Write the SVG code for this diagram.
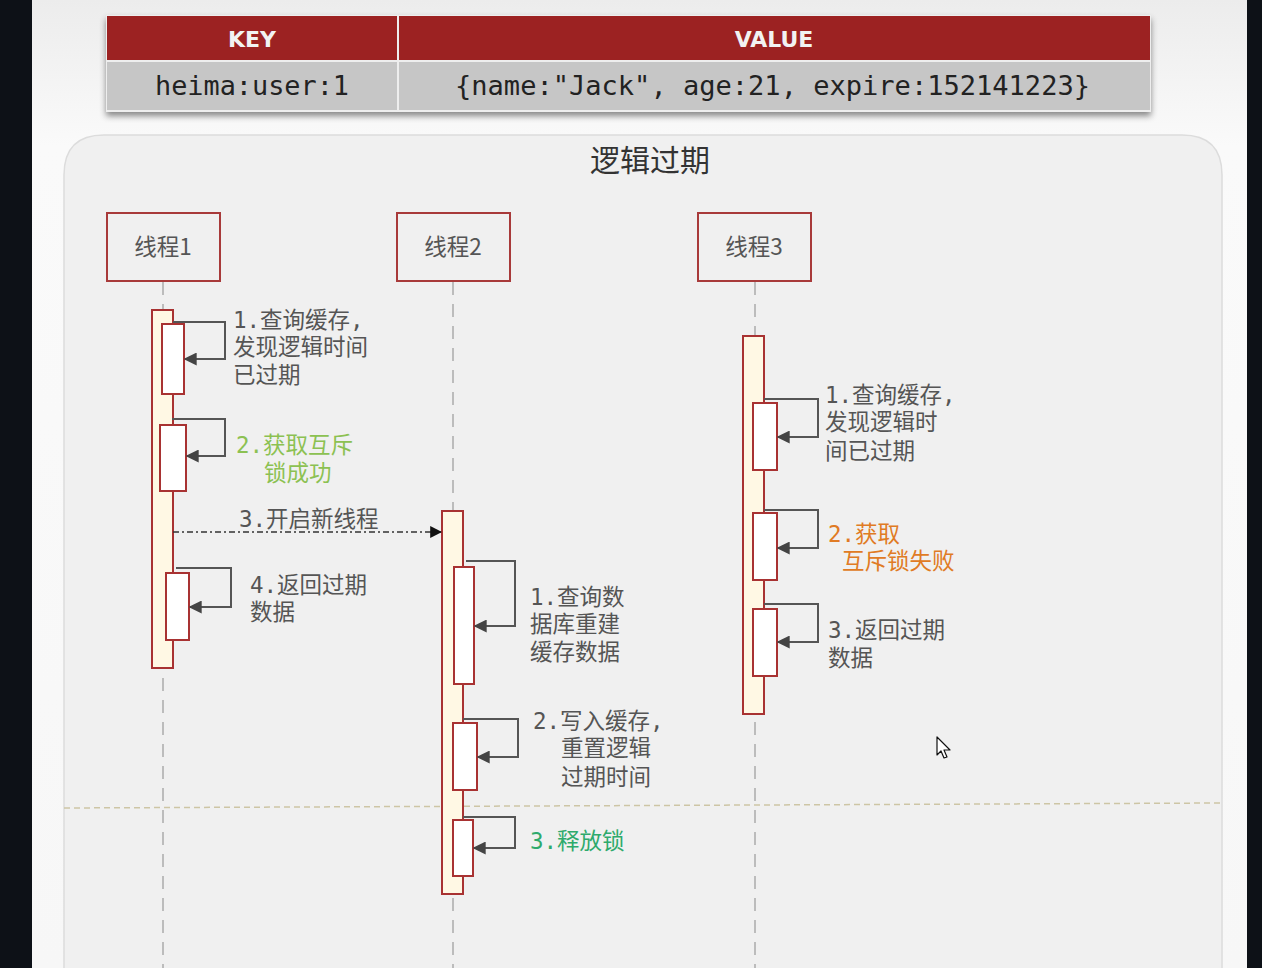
<svg xmlns="http://www.w3.org/2000/svg" width="1262" height="968" viewBox="0 0 1262 968">
<defs>
  <linearGradient id="bg" x1="0" y1="0" x2="0" y2="1">
    <stop offset="0" stop-color="#ececec"/>
    <stop offset="0.15" stop-color="#fafafa"/>
    <stop offset="1" stop-color="#f7f7f7"/>
  </linearGradient>
  <filter id="sh" x="-5%" y="-20%" width="110%" height="150%">
    <feDropShadow dx="0" dy="4" stdDeviation="3" flood-color="#000" flood-opacity="0.45"/>
  </filter>
  <marker id="ah" viewBox="0 0 10 10" refX="9" refY="5" markerWidth="6.5" markerHeight="6.5" orient="auto" markerUnits="strokeWidth">
    <path d="M0,0 L10,5 L0,10 z" fill="#444"/>
  </marker>
  <marker id="ahb" viewBox="0 0 10 10" refX="9" refY="5" markerWidth="8" markerHeight="8" orient="auto" markerUnits="strokeWidth">
    <path d="M0,0 L10,5 L0,10 z" fill="#111"/>
  </marker>
  <style>
    .hdr{fill:#9c2424}
    .hdrt{font-family:"DejaVu Sans","Liberation Sans",sans-serif;font-weight:bold;font-size:22px;fill:#f2f2f2;text-anchor:middle}
    .row{fill:#c6c6c6}
    .mono{font-family:"DejaVu Sans Mono","Liberation Mono",monospace;font-size:26px;fill:#222}
    .thread rect{fill:#f0f0f0;stroke:#a83a3a;stroke-width:2}
    .thread text{font-family:"Noto Sans CJK SC","Noto Sans",sans-serif;font-size:22.5px;fill:#555;text-anchor:middle}
    .life{stroke:#aaa;stroke-width:1.5;stroke-dasharray:13 9;fill:none}
    .act{fill:#fff8e4;stroke:#a83232;stroke-width:2}
    .inn{fill:#ffffff;stroke:#a83232;stroke-width:2}
    .loop{fill:none;stroke:#555;stroke-width:2;marker-end:url(#ah)}
    .lbl{font-family:"DejaVu Sans Mono","Noto Sans CJK SC",monospace;font-size:22.5px;fill:#555}
    .green{fill:#8cc152}
    .teal{fill:#2eaa6c}
    .orange{fill:#e07b24}
  </style>
</defs>

<rect x="0" y="0" width="1262" height="968" fill="url(#bg)"/>
<rect x="0" y="0" width="32" height="968" fill="#0d1117"/>
<rect x="1247" y="0" width="15" height="968" fill="#0d1117"/>

<!-- table -->
<g id="table" filter="url(#sh)">
  <rect x="106" y="15" width="1045" height="97" fill="#eeeeee"/>
  <rect class="hdr" x="107" y="16" width="290" height="44"/>
  <rect class="hdr" x="399" y="16" width="751" height="44"/>
  <rect class="row" x="107" y="62" width="290" height="48"/>
  <rect class="row" x="399" y="62" width="751" height="48"/>
</g>
<text class="hdrt" x="252" y="47">KEY</text>
<text class="hdrt" x="774" y="47">VALUE</text>
<text class="mono" x="155" y="95" textLength="194" lengthAdjust="spacingAndGlyphs">heima:user:1</text>
<text class="mono" x="455" y="95" textLength="635" lengthAdjust="spacingAndGlyphs">{name:"Jack", age:21, expire:152141223}</text>

<!-- panel -->
<g id="panel">
  <path d="M64,985 L64,175 Q64,135 104,135 L1182,135 Q1222,135 1222,175 L1222,985 Z" fill="#f0f0f0" stroke="#dcdcdc" stroke-width="1.5"/>
  <text x="650" y="171" font-family="Noto Sans CJK SC, sans-serif" font-size="30" fill="#333" text-anchor="middle">逻辑过期</text>
</g>

<!-- lifelines and separators -->
<g id="connectors">
  <line class="life" x1="163" y1="282" x2="163" y2="968"/>
  <line class="life" x1="453" y1="282" x2="453" y2="968"/>
  <line class="life" x1="755" y1="282" x2="755" y2="968"/>
  <line x1="64" y1="808" x2="1222" y2="803" stroke="#cdc5a5" stroke-width="1.5" stroke-dasharray="6 4"/>
</g>

<g id="thread1" class="thread">
  <rect x="107" y="213" width="113" height="68"/>
  <text x="163" y="255">线程1</text>
</g>
<g id="thread2" class="thread">
  <rect x="397" y="213" width="113" height="68"/>
  <text x="453" y="255">线程2</text>
</g>
<g id="thread3" class="thread">
  <rect x="698" y="213" width="113" height="68"/>
  <text x="754" y="255">线程3</text>
</g>

<!-- Thread 1 activations -->
<g id="t1-activation">
  <rect class="act" x="152" y="310" width="21" height="358"/>
  <rect class="inn" x="162" y="324" width="22" height="70"/>
  <rect class="inn" x="160" y="425" width="26" height="66"/>
  <rect class="inn" x="166" y="573" width="23" height="67"/>
</g>
<g id="t2-activation">
  <rect class="act" x="442" y="511" width="21" height="383"/>
  <rect class="inn" x="454" y="567" width="20" height="117"/>
  <rect class="inn" x="453" y="723" width="24" height="67"/>
  <rect class="inn" x="453" y="820" width="20" height="56"/>
</g>
<g id="t3-activation">
  <rect class="act" x="743" y="336" width="21" height="378"/>
  <rect class="inn" x="753" y="403" width="24" height="67"/>
  <rect class="inn" x="753" y="513" width="24" height="67"/>
  <rect class="inn" x="753" y="609" width="24" height="67"/>
</g>

<g id="messages">
  <!-- thread 1 loops -->
  <path class="loop" d="M173,322 H225 V359 H185"/>
  <path class="loop" d="M172,419 H225 V456 H187"/>
  <path class="loop" d="M176,568 H231 V607 H190"/>
  <!-- new thread -->
  <line x1="173" y1="532" x2="441" y2="532" stroke="#333" stroke-width="1.5" stroke-dasharray="6 3 2 3" marker-end="url(#ahb)"/>
  <!-- thread 2 loops -->
  <path class="loop" d="M466,561 H515 V626 H475"/>
  <path class="loop" d="M463,719 H518 V757 H478"/>
  <path class="loop" d="M463,817 H515 V848 H474"/>
  <!-- thread 3 loops -->
  <path class="loop" d="M764,399 H818 V437 H778"/>
  <path class="loop" d="M764,510 H818 V548 H778"/>
  <path class="loop" d="M764,604 H818 V642 H778"/>
</g>

<g id="labels">
  <text class="lbl" x="233" y="328">1.查询缓存,</text>
  <text class="lbl" x="233" y="355">发现逻辑时间</text>
  <text class="lbl" x="233" y="383">已过期</text>
  <text class="lbl green" x="236" y="453">2.获取互斥</text>
  <text class="lbl green" x="264" y="481">锁成功</text>
  <text class="lbl" x="239" y="527">3.开启新线程</text>
  <text class="lbl" x="250" y="593">4.返回过期</text>
  <text class="lbl" x="250" y="620">数据</text>

  <text class="lbl" x="530" y="605">1.查询数</text>
  <text class="lbl" x="530" y="632">据库重建</text>
  <text class="lbl" x="530" y="660">缓存数据</text>
  <text class="lbl" x="533" y="729">2.写入缓存,</text>
  <text class="lbl" x="561" y="756">重置逻辑</text>
  <text class="lbl" x="561" y="785">过期时间</text>
  <text class="lbl teal" x="530" y="849">3.释放锁</text>

  <text class="lbl" x="825" y="403">1.查询缓存,</text>
  <text class="lbl" x="825" y="430">发现逻辑时</text>
  <text class="lbl" x="825" y="459">间已过期</text>
  <text class="lbl orange" x="828" y="542">2.获取</text>
  <text class="lbl orange" x="842" y="569">互斥锁失败</text>
  <text class="lbl" x="828" y="638">3.返回过期</text>
  <text class="lbl" x="828" y="666">数据</text>
</g>

<!-- mouse cursor -->
<path d="M937,737 L937,755 L941,751 L944,758 L947,757 L944,750 L950,750 Z" fill="#fff" stroke="#111" stroke-width="1.2" stroke-linejoin="round"/>
</svg>
